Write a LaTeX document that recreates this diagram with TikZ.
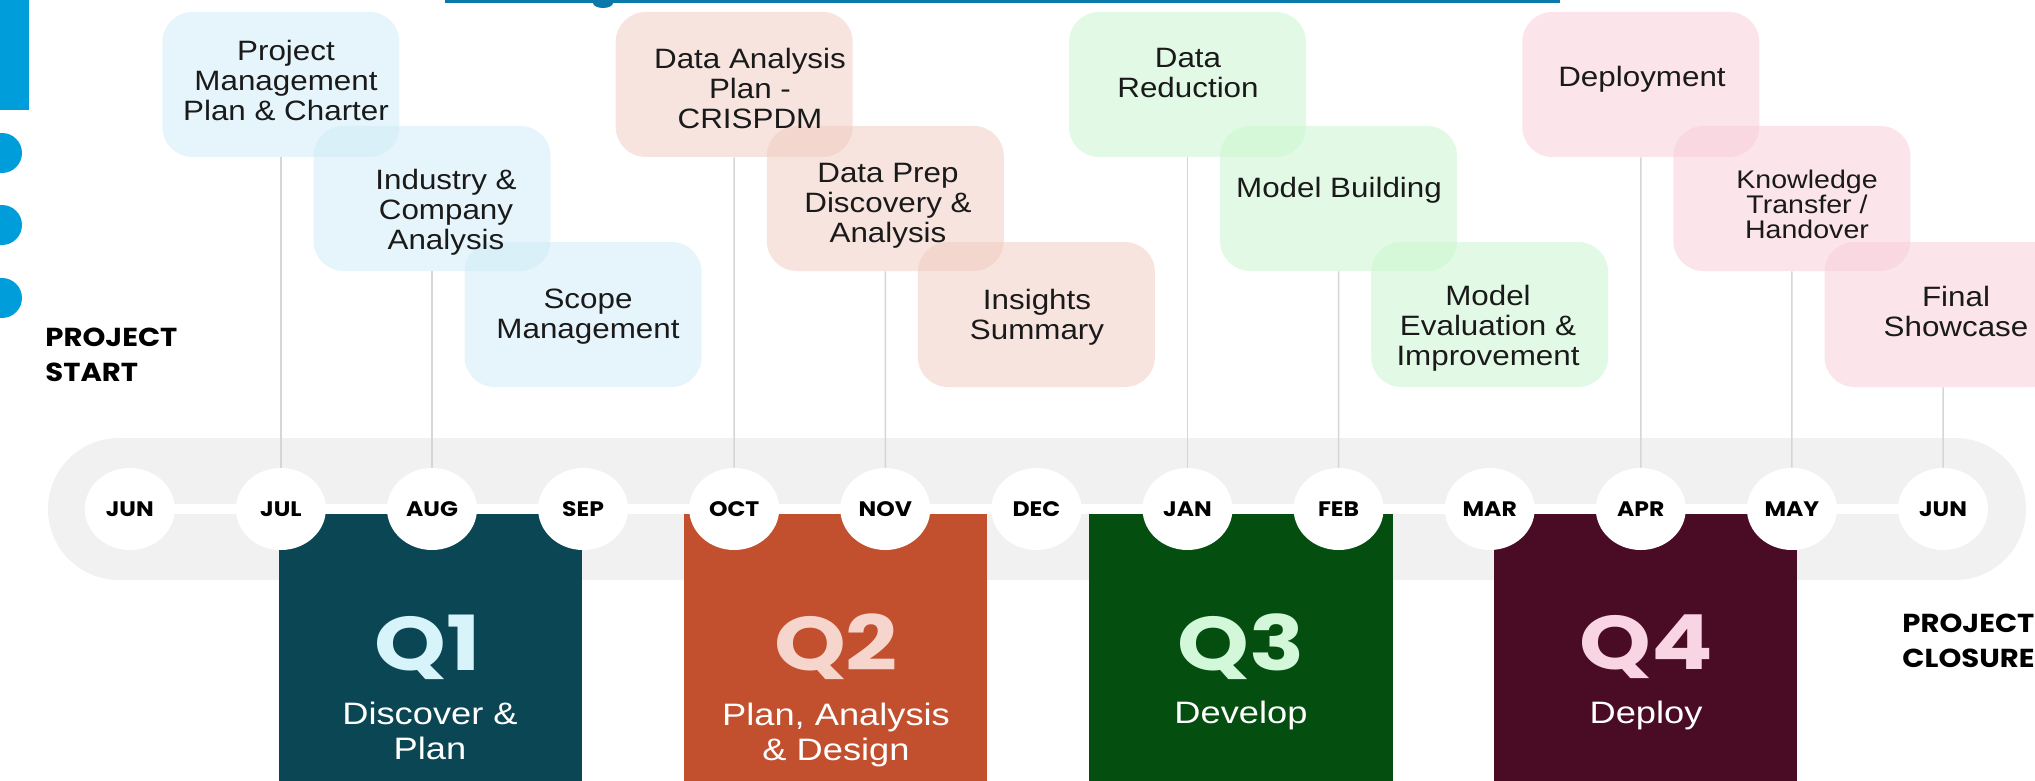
\documentclass[tikz,border=0pt]{standalone}
\usepackage{fontspec}
\usetikzlibrary{shapes.geometric}
\newfontfamily\boxfont[FakeStretch=1.12]{Liberation Sans}
\newfontfamily\subfont[FakeStretch=1.17]{Liberation Sans}
\newfontfamily\geofont[FakeStretch=1.12]{Poppins}
\newfontfamily\qfont[FakeStretch=1.2]{Poppins}

\definecolor{sideblue}{HTML}{009DDB}
\definecolor{topblue}{HTML}{0A78A8}
\definecolor{bandgray}{HTML}{F1F1F1}
\definecolor{connline}{HTML}{D6D6D6}
\definecolor{tblue}{HTML}{CFEDF9}
\definecolor{tpeach}{HTML}{F1CBBF}
\definecolor{tgreen}{HTML}{C7F7CD}
\definecolor{tpink}{HTML}{F9CDD9}
\definecolor{qonebg}{HTML}{0B4654}
\definecolor{qonefg}{HTML}{D6F4FA}
\definecolor{qtwobg}{HTML}{C24F2D}
\definecolor{qtwofg}{HTML}{F6D6CC}
\definecolor{qthreebg}{HTML}{044E10}
\definecolor{qthreefg}{HTML}{D2F7D9}
\definecolor{qfourbg}{HTML}{4A0B24}
\definecolor{qfourfg}{HTML}{F9D5E4}
\definecolor{inktext}{HTML}{1A1A1A}

\begin{document}
\begin{tikzpicture}[x=0.5pt,y=-0.5pt,
  monthdisc/.style={ellipse, fill=white, minimum width=45pt, minimum height=41pt,
    inner sep=0pt, text=black, font=\geofont\bfseries\fontsize{10.5}{12}\selectfont},
  taskbox/.style={rectangle, rounded corners=15pt, minimum width=118.5pt,
    minimum height=72.5pt, fill opacity=0.5, draw=none, inner sep=0pt},
  tasktext/.style={align=center, inner sep=0pt, text=inktext,
    font=\boxfont\fontsize{14}{15}\selectfont},
  smalltext/.style={align=center, inner sep=0pt, text=inktext,
    font=\boxfont\fontsize{12.75}{12.5}\selectfont},
  conn/.style={draw=connline, line width=0.75pt},
  qnum/.style={inner sep=0pt, font=\qfont\bfseries\fontsize{38}{39}\selectfont},
  qsub/.style={align=center, inner sep=0pt, text=white,
    font=\subfont\fontsize{15.5}{17.5}\selectfont},
  endlabel/.style={align=left, inner sep=0pt, text=black,
    font=\geofont\bfseries\fontsize{13}{17.5}\selectfont}
]
\clip (0,0) rectangle (2035,781);
\fill[white] (0,0) rectangle (2035,781);

% left-edge decoration
\fill[sideblue] (0,0) rectangle (29,110);
\foreach \yy in {153,225,298} \fill[sideblue] (2,\yy) circle (20);

% top rule
\fill[topblue] (445,0) rectangle (1560,3.5);
\fill[topblue] (603,3) ellipse (10 and 5);

% timeline band and track
\fill[bandgray, rounded corners=35.5pt] (48,438) rectangle (2026,580);
\fill[white] (130,504) rectangle (1943,514);

% quarter panels
\fill[qonebg]   (279,514)  rectangle (582,800);
\fill[qtwobg]   (684,514)  rectangle (987,800);
\fill[qthreebg] (1089,514) rectangle (1393,800);
\fill[qfourbg]  (1494,514) rectangle (1797,800);

% months
\foreach \i/\m in {0/JUN,1/JUL,2/AUG,3/SEP,4/OCT,5/NOV,6/DEC,7/JAN,8/FEB,9/MAR,10/APR,11/MAY,12/JUN}
  \node[monthdisc] (m\i) at ({129.8+151.1*\i},509) {\m};

% task boxes
\node[taskbox, fill=tblue]  (t1)  at (280.9,84.5)  {};
\node[taskbox, fill=tblue]  (t2)  at (432.0,198.5) {};
\node[taskbox, fill=tblue]  (t3)  at (583.1,314.5) {};
\node[taskbox, fill=tpeach] (t4)  at (734.2,84.5)  {};
\node[taskbox, fill=tpeach] (t5)  at (885.3,198.5) {};
\node[taskbox, fill=tpeach] (t6)  at (1036.4,314.5) {};
\node[taskbox, fill=tgreen] (t7)  at (1187.5,84.5)  {};
\node[taskbox, fill=tgreen] (t8)  at (1338.6,198.5) {};
\node[taskbox, fill=tgreen] (t9)  at (1489.7,314.5) {};
\node[taskbox, fill=tpink]  (t10) at (1640.8,84.5)  {};
\node[taskbox, fill=tpink]  (t11) at (1791.9,198.5) {};
\node[taskbox, fill=tpink]  (t12) at (1943.0,314.5) {};

% connectors
\foreach \k in {1,2,4,5,7,8,10,11,12}
  \draw[conn] (t\k) -- (m\k);

% task texts
\node[tasktext] (x1)  at (286,80.5)  {Project\\Management\\Plan \& Charter};
\node[tasktext] (x2)  at (446,212)   {Industry \&\\Company\\Analysis};
\node[tasktext] (x3)  at (588,317)   {Scope\\Management};
\node[tasktext] (x4)  at (750,88)    {Data Analysis\\Plan -\\CRISPDM};
\node[tasktext] (x5)  at (888,206)   {Data Prep\\Discovery \&\\Analysis};
\node[tasktext] (x6)  at (1037,317)  {Insights\\Summary};
\node[tasktext] (x7)  at (1188,73)   {Data\\Reduction};
\node[tasktext] (x8)  at (1339,190)  {Model Building};
\node[tasktext] (x9)  at (1488,328)  {Model\\Evaluation \&\\Improvement};
\node[tasktext] (x10) at (1642,79)   {Deployment};
\node[smalltext] (x11) at (1807,204) {Knowledge\\Transfer /\\Handover};
\node[tasktext] (x12) at (1956,311)  {Final\\Showcase};

% quarter labels
\node[qnum, text=qonefg]   (q1)  at (428,647)  {Q1};
\node[qnum, text=qtwofg]   (q2)  at (836,647)  {Q2};
\node[qnum, text=qthreefg] (q3)  at (1241,647) {Q3};
\node[qnum, text=qfourfg]  (q4)  at (1646,647) {Q4};
\node[qsub] (s1) at (430,731)  {Discover \&\\Plan};
\node[qsub] (s2) at (836,735)  {Plan, Analysis\\\& Design};
\node[qsub] (s3) at (1241,715) {Develop};
\node[qsub] (s4) at (1646,715) {Deploy};

% start and end labels
\node[endlabel, anchor=north west] (ps) at (45,328)   {PROJECT\\START};
\node[endlabel, anchor=north west] (pc) at (1902,614) {PROJECT\\CLOSURE};
\end{tikzpicture}
\end{document}
